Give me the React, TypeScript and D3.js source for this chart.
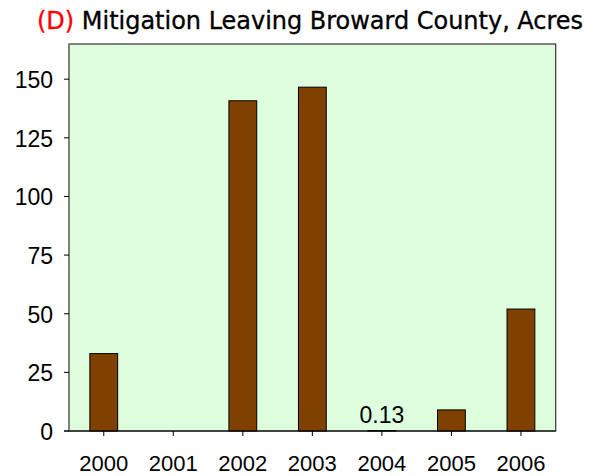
import React from "react";
import * as d3 from "d3";

const categories = ["2000", "2001", "2002", "2003", "2004", "2005", "2006"];
const values = [33, 0, 140.8, 146.6, 0.13, 9, 52];
const yTicks = [0, 25, 50, 75, 100, 125, 150];
const labelled = ["2004"];

export default function App() {
  const W = 606, H = 476;
  const left = 69, right = 555.7, top = 44, bottom = 431;
  const x = d3.scaleBand().domain(categories).range([left, right]).paddingInner(0.6).paddingOuter(0.3);
  const xc = d3.scaleBand().domain(categories).range([left, right]);
  const y = d3.scaleLinear().domain([0, 165]).range([bottom, top]);
  const font: React.CSSProperties = { fontFamily: "Liberation Sans" };
  return (
    <svg width={W} height={H} style={{ position: "absolute", left: 0, top: 0 }}>
      <rect width={W} height={H} fill="#fff" />
      <text x={37} y={28.5} style={{ fontFamily: "DejaVu Sans Condensed, DejaVu Sans" }} fontSize={24.5} textLength={546} lengthAdjust="spacingAndGlyphs" stroke="#000" strokeWidth={0.3}>
        <tspan fill="#ff0000" stroke="#ff0000">(D)</tspan>
        <tspan fill="#000"> Mitigation Leaving Broward County, Acres</tspan>
      </text>
      <rect x={left} y={top} width={right - left} height={bottom - top} fill="#ddffdd" stroke="#333" strokeWidth={1.2} />
      {categories.map((c, i) => (
        <rect key={c} x={x(c)} y={y(values[i])} width={x.bandwidth()} height={bottom - y(values[i])}
          fill="#804000" stroke="#000" strokeWidth={1} />
      ))}
      <line x1={left} x2={left} y1={top} y2={bottom} stroke="#808080" strokeWidth={1.5} />
      <line x1={left - 5} x2={right} y1={bottom} y2={bottom} stroke="#000" strokeWidth={1.2} />
      {yTicks.map(t => (
        <g key={t}>
          <line x1={left - 5} x2={left} y1={y(t)} y2={y(t)} stroke="#000" />
          <text x={53} y={y(t) + 9} textAnchor="end" style={font} fontSize={23}>{t}</text>
        </g>
      ))}
      {categories.map(c => {
        const cx = (xc(c) as number) + xc.bandwidth() / 2;
        return (
          <g key={c}>
            <line x1={cx} x2={cx} y1={bottom} y2={bottom + 5} stroke="#000" />
            <text x={cx} y={471} textAnchor="middle" style={font} fontSize={22}>{c}</text>
          </g>
        );
      })}
      {categories.map((c, i) => labelled.includes(c) ? (
        <text key={"l" + c} x={(xc(c) as number) + xc.bandwidth() / 2} y={423} textAnchor="middle" style={font} fontSize={23}>
          {values[i].toFixed(2)}
        </text>
      ) : null)}
    </svg>
  );
}
